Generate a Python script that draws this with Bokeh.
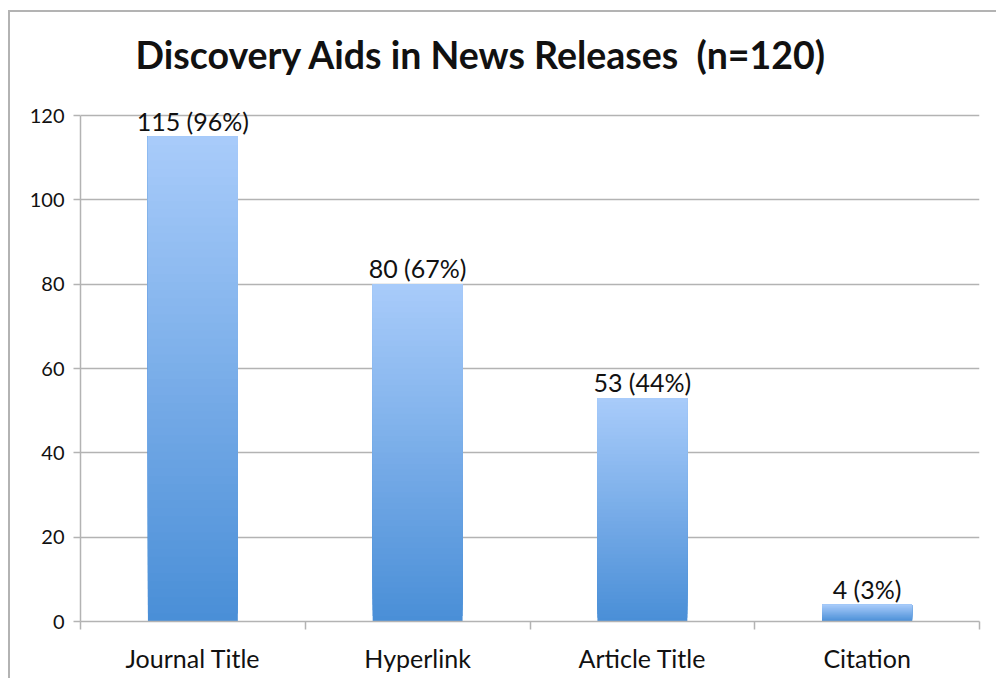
from bokeh.plotting import figure
from bokeh.models import FixedTicker, ColumnDataSource, Range1d, LabelSet, Label
from bokeh.core.properties import value
from bokeh.embed import file_html
from bokeh.resources import INLINE

categories = ["Journal Title", "Hyperlink", "Article Title", "Citation"]
counts = [115, 80, 53, 4]
percents = [96, 67, 44, 3]
n_total = 120
y_ticks = [0, 20, 40, 60, 80, 100, 120]
title_text = "Discovery Aids in News Releases \u00a0(n=120)"

FONT = "Lato"
GRID = "#b3b3b3"
TOP_C = (0xA8, 0xCB, 0xFA)
BOT_C = (0x4A, 0x8F, 0xD7)

# layout (pixels): the frame extends up to the canvas top so the title is not clipped;
# the value axis occupies the lower PLOT_PX pixels of the FRAME_PX tall frame.
W, H = 988, 668
BORDER_L, BORDER_R, BORDER_B = 70, 19, 59
FRAME_PX = H - BORDER_B
PLOT_PX = 506
y_end = n_total * FRAME_PX / PLOT_PX

p = figure(width=W, height=H, output_backend="svg", toolbar_location=None,
           x_range=Range1d(0, len(categories)), y_range=Range1d(0, y_end),
           min_border_left=BORDER_L, min_border_top=0, min_border_right=BORDER_R,
           min_border_bottom=BORDER_B)
p.styles = {"border-top": "2px solid #b3b3b3", "border-left": "2px solid #b3b3b3",
            "margin-top": "10px", "margin-left": "8px"}

title = Label(x=55, y=FRAME_PX - 42, x_units="screen", y_units="screen", text=title_text,
              text_font=FONT, text_font_size="37.5px", text_font_style="bold",
              text_color="#111111", text_align="left", text_baseline="alphabetic")
p.add_layout(title)

p.outline_line_color = None
p.xgrid.grid_line_color = None
p.ygrid.grid_line_color = GRID
p.ygrid.grid_line_width = 1.5
p.ygrid.ticker = FixedTicker(ticks=y_ticks)

# gradient bars: overlapping slices, each from its level up to the bar top
N = 60
lefts, rights, bottoms, tops, colors = [], [], [], [], []
for i, v in enumerate(counts):
    cx = i + 0.5
    for k in range(N):
        f = k / (N - 1)
        c = tuple(int(round(BOT_C[j] + (TOP_C[j] - BOT_C[j]) * f)) for j in range(3))
        lefts.append(cx - 0.2)
        rights.append(cx + 0.2)
        bottoms.append(v * k / N)
        tops.append(v)
        colors.append("#%02x%02x%02x" % c)
src = ColumnDataSource(dict(left=lefts, right=rights, bottom=bottoms, top=tops, color=colors))
p.quad(left="left", right="right", bottom="bottom", top="top", fill_color="color",
       line_color=None, source=src)

lab_src = ColumnDataSource(dict(x=[i + 0.5 for i in range(len(categories))], y=counts,
                                t=[f"{c} ({q}%)" for c, q in zip(counts, percents)]))
labels = LabelSet(x="x", y="y", text="t", source=lab_src, text_font=value(FONT),
                  text_font_size=value("25px"), text_align="center", text_baseline="alphabetic",
                  y_offset=6, text_color="#111111")
p.add_layout(labels)

xa = p.xaxis[0]
xa.ticker = FixedTicker(ticks=[i + 0.5 for i in range(len(categories))],
                        minor_ticks=list(range(len(categories) + 1)))
xa.major_label_overrides = {i + 0.5: c for i, c in enumerate(categories)}
xa.major_tick_line_color = None
xa.minor_tick_line_color = GRID
xa.minor_tick_line_width = 1.5
xa.minor_tick_out = 8
xa.minor_tick_in = 0
xa.axis_line_color = GRID
xa.axis_line_width = 1.5
xa.major_label_text_font = FONT
xa.major_label_text_font_size = "25px"
xa.major_label_text_color = "#111111"
xa.major_label_standoff = 13

ya = p.yaxis[0]
ya.ticker = FixedTicker(ticks=y_ticks)
ya.bounds = (0, n_total)
ya.minor_tick_line_color = None
ya.major_tick_line_color = GRID
ya.major_tick_line_width = 1.5
ya.major_tick_out = 7
ya.major_tick_in = 0
ya.axis_line_color = GRID
ya.axis_line_width = 1.5
ya.major_label_text_font = FONT
ya.major_label_text_font_size = "20px"
ya.major_label_text_color = "#111111"
ya.major_label_standoff = 9

open("out.html", "w").write(file_html(p, INLINE))
